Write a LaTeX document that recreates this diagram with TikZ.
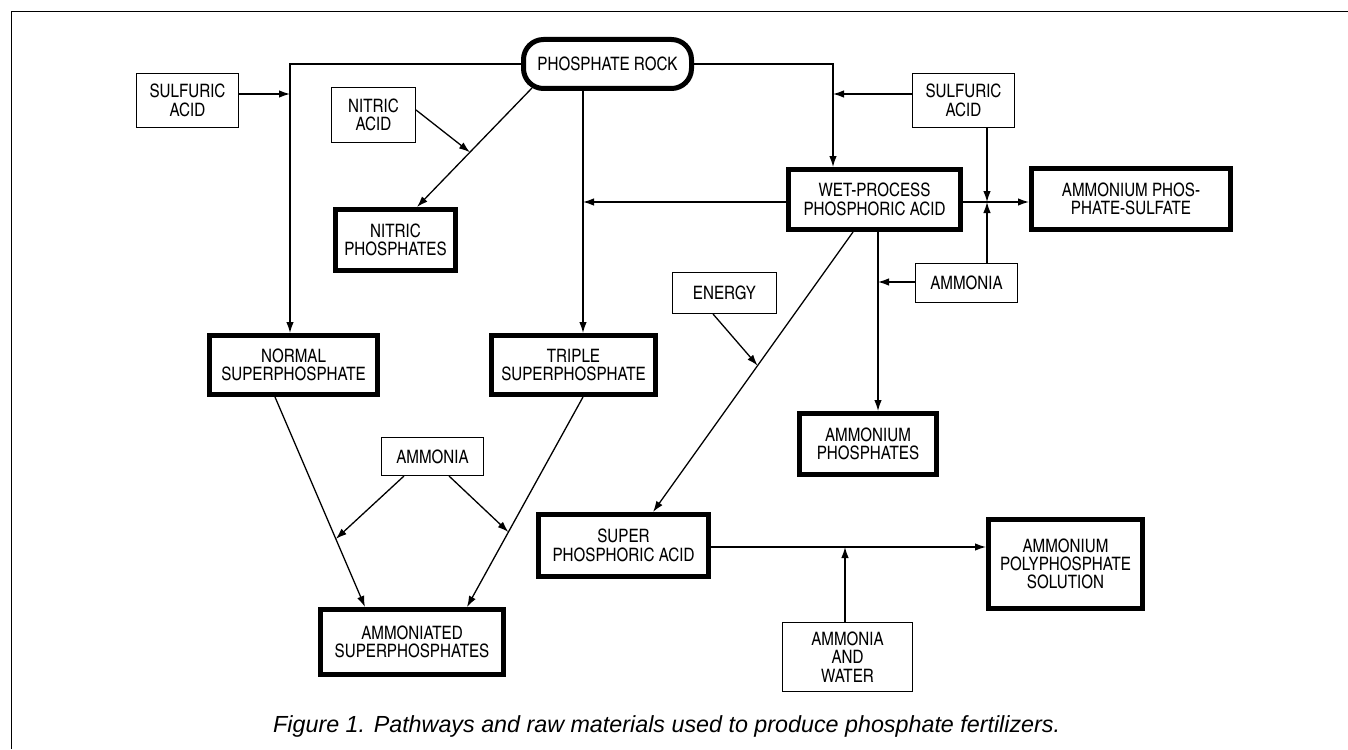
\documentclass[tikz,border=0pt]{standalone}
\usepackage{fontspec}
\usetikzlibrary{arrows.meta,calc}
\newfontfamily\bxfont{texgyreheroscn-regular.otf}
\newfontfamily\capfont{Liberation Sans}
\begin{document}
\begin{tikzpicture}[x=1pt,y=-1pt,
  thinbox/.style={draw, line width=1.3pt, inner sep=0pt, align=center,
    font=\bxfont\fontsize{18.5}{18.3}\selectfont},
  thickbox/.style={draw, line width=5pt, inner sep=0pt, align=center,
    font=\bxfont\fontsize{18.5}{18.3}\selectfont},
  conn/.style={line width=1.3pt},
  arr/.style={line width=1.3pt, -{Latex[length=11pt,width=7.5pt]}}]
\useasboundingbox (0,0) rectangle (1348,749);
% frame
\draw[line width=1.3pt] (11.7,749) -- (11.7,11.7) -- (1348,11.7);

% nodes
\node[thinbox, minimum width=101.7, minimum height=53.7] (sulfL) at (187.5,100.5) {SULFURIC\\ACID};
\node[thinbox, minimum width=83.7, minimum height=54.7] (nitricA) at (373.5,115) {NITRIC\\ACID};
\node[thickbox, rounded corners=20pt, minimum width=168, minimum height=49] (rock) at (607.5,64) {PHOSPHATE ROCK};
\node[thinbox, minimum width=101.7, minimum height=53.7] (sulfR) at (963.5,100.5) {SULFURIC\\ACID};
\node[thickbox, minimum width=120, minimum height=61] (nitricP) at (395.5,240) {NITRIC\\PHOSPHATES};
\node[thickbox, minimum width=172, minimum height=60] (wet) at (874.5,199.5) {WET-PROCESS\\PHOSPHORIC ACID};
\node[thickbox, minimum width=199, minimum height=61] (aps) at (1131,199) {AMMONIUM PHOS-\\PHATE-SULFATE};
\node[thinbox, minimum width=103.7, minimum height=40.7] (energy) at (724.5,293) {ENERGY};
\node[thinbox, minimum width=101.7, minimum height=38.7] (ammR) at (966.5,283) {AMMONIA};
\node[thickbox, minimum width=168, minimum height=59] (normal) at (293.5,365) {NORMAL\\SUPERPHOSPHATE};
\node[thickbox, minimum width=164, minimum height=59] (triple) at (573.5,365) {TRIPLE\\SUPERPHOSPHATE};
\node[thickbox, minimum width=137, minimum height=61] (ammP) at (868,444) {AMMONIUM\\PHOSPHATES};
\node[thinbox, minimum width=101.7, minimum height=37.7] (ammM) at (432.5,456.5) {AMMONIA};
\node[thickbox, minimum width=170, minimum height=62] (spa) at (623.5,545.5) {SUPER\\PHOSPHORIC ACID};
\node[thickbox, minimum width=154, minimum height=89] (apsol) at (1065.5,564) {AMMONIUM\\POLYPHOSPHATE\\SOLUTION};
\node[thickbox, minimum width=183, minimum height=65] (ammon) at (412,642) {AMMONIATED\\SUPERPHOSPHATES};
\node[thinbox, minimum width=129.7, minimum height=68.7] (aw) at (847.5,657) {AMMONIA\\AND\\WATER};

% caption
\node[anchor=base west, inner sep=0pt, font=\capfont\itshape\fontsize{23.3}{28}\selectfont] (cap) at (273,732)
  {Figure 1. Pathways and raw materials used to produce phosphate fertilizers.};

% helper coordinates
\coordinate (jL) at (290,94);
\coordinate (jR) at (833,94);
\coordinate (jT) at (583,202);
\coordinate (jS) at (987,202);
\coordinate (jA) at (878,282);
\coordinate (jW) at (845,547);

% connectors
\draw[arr] (rock.west) -| ([xshift=-3.5pt]normal.north);
\draw[arr] (sulfL.east |- jL) -- (jL);
\coordinate (rs) at ($(rock.south west)+(11,-3)$);
\coordinate (ne) at ($(nitricP.north)+(21.5,0)$);
\draw[arr] (rs) -- (ne);
\coordinate (jN) at ($(rs)!0.54!(ne)$);
\draw[arr] ($(nitricA.north east)!0.41!(nitricA.south east)$) -- (jN);
\draw[arr] ($(rock.south)+(-24.5,0)$) -- ($(triple.north)+(9.5,0)$);
\draw[arr] (wet.west |- jT) -- (jT);
\draw[arr] (rock.east) -| (jR |- wet.north);
\draw[arr] (sulfR.west |- jR) -- (jR);
\draw[arr] (jS |- sulfR.south) -- (jS);
\draw[arr] (ammR.north -| jS) -- (jS);
\draw[arr] (wet.east |- jS) -- (aps.west |- jS);
\draw[arr] (ammR.west |- jA) -- (jA);
\draw[arr] (wet.south -| jA) -- (ammP.north -| jA);
\coordinate (ws) at ($(wet.south)+(-21.5,0)$);
\coordinate (sn) at ($(spa.north)+(29.5,0)$);
\draw[arr] (ws) -- (sn);
\draw[arr] ($(energy.south)+(-11.5,0)$) -- ($(ws)!0.477!(sn)$);
\coordinate (nb) at ($(normal.south)+(-18.5,0)$);
\coordinate (an1) at ($(ammon.north)+(-47,0)$);
\draw[arr] (nb) -- (an1);
\coordinate (tb) at ($(triple.south)+(9.5,0)$);
\coordinate (an2) at ($(ammon.north)+(55,0)$);
\draw[arr] (tb) -- (an2);
\draw[arr] ($(ammM.south)+(-28.5,0)$) -- ($(nb)!0.676!(an1)$);
\draw[arr] ($(ammM.south)+(16.5,0)$) -- ($(tb)!0.643!(an2)$);
\draw[arr] (spa.east |- jW) -- (apsol.west |- jW);
\draw[arr] (aw.north -| jW) -- (jW);
\end{tikzpicture}
\end{document}
